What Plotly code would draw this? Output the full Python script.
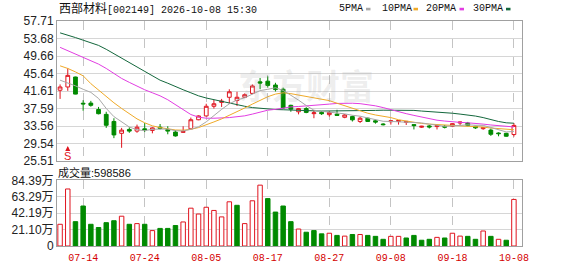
import plotly.graph_objects as go

# ---------------- data ----------------
dates = ["07-09", "07-10", "07-13", "07-14", "07-15", "07-16", "07-17", "07-20", "07-21", "07-22",
         "07-23", "07-24", "07-27", "07-28", "07-29", "07-30", "07-31", "08-03", "08-04", "08-05",
         "08-06", "08-07", "08-10", "08-11", "08-12", "08-13", "08-14", "08-17", "08-18", "08-19",
         "08-20", "08-21", "08-24", "08-25", "08-26", "08-27", "08-28", "08-31", "09-01", "09-02",
         "09-03", "09-04", "09-07", "09-08", "09-09", "09-10", "09-11", "09-14", "09-15", "09-16",
         "09-17", "09-18", "09-21", "09-22", "09-23", "09-24", "09-28", "09-29", "09-30", "10-08"]

opens = [41.79, 42.54, 44.83, 38.80, 38.83, 37.35, 36.24, 34.61, 31.88, 32.77,
         32.39, 32.91, 32.55, 33.28, 32.77, 32.17, 32.10, 32.91, 35.00, 35.88,
         38.10, 38.99, 40.17, 39.43, 40.17, 41.06, 43.72, 43.87, 42.99, 42.01,
         38.32, 36.84, 37.57, 36.40, 36.69, 36.17, 36.30, 35.57, 35.72, 34.61,
         35.35, 34.76, 34.02, 34.55, 34.61, 34.39, 33.88, 33.28, 33.58, 33.43,
         33.50, 33.50, 34.24, 34.24, 33.50, 32.95, 32.62, 31.95, 31.88, 31.60]
highs = [43.12, 46.83, 44.90, 39.50, 39.34, 37.95, 36.84, 35.35, 33.13, 33.28,
         33.88, 34.24, 33.28, 34.02, 33.50, 32.62, 33.50, 35.50, 36.00, 38.68,
         39.56, 39.79, 42.01, 41.43, 41.06, 43.12, 44.61, 44.98, 43.50, 42.39,
         38.46, 37.72, 37.90, 37.21, 37.00, 37.00, 37.30, 36.30, 35.95, 35.72,
         35.50, 35.00, 34.20, 34.80, 34.90, 34.70, 33.95, 33.60, 33.80, 33.70,
         33.80, 34.20, 34.55, 34.50, 33.60, 33.28, 32.99, 32.10, 32.00, 34.24]
lows = [39.79, 41.65, 40.85, 37.06, 38.00, 36.24, 33.13, 30.77, 28.55, 32.00,
        32.00, 32.17, 31.88, 32.77, 31.66, 31.13, 32.00, 32.77, 34.90, 35.72,
        37.57, 37.95, 38.68, 38.17, 40.00, 40.90, 42.01, 42.39, 41.50, 37.50,
        36.84, 36.24, 36.50, 35.35, 36.10, 35.72, 35.90, 35.35, 34.60, 34.24,
        34.50, 34.10, 33.70, 33.88, 33.88, 33.80, 32.77, 33.10, 32.99, 32.77,
        33.00, 33.30, 33.73, 33.50, 32.90, 32.69, 31.28, 31.20, 31.10, 31.13]
closes = [42.54, 45.21, 40.90, 38.65, 38.32, 36.39, 33.73, 31.51, 32.62, 32.39,
          33.28, 32.62, 33.13, 33.00, 32.39, 31.28, 32.32, 35.00, 35.88, 38.10,
          38.68, 39.28, 41.43, 40.17, 40.76, 42.77, 43.43, 42.90, 41.94, 37.72,
          37.43, 37.57, 36.69, 36.60, 36.39, 36.69, 36.00, 36.10, 34.98, 35.35,
          34.61, 34.46, 33.87, 34.76, 34.83, 34.61, 33.66, 33.50, 33.35, 33.66,
          33.30, 34.10, 34.46, 33.66, 33.13, 33.20, 31.66, 31.80, 31.21, 33.70]
prev_close_before_first = 41.20

# volume in units of 万 (10k shares)
volumes = [27.9, 73.3, 31.3, 51.4, 27.9, 23.8, 30.0, 32.5, 38.3, 27.9,
           28.8, 27.9, 19.8, 22.6, 22.6, 26.3, 30.9, 48.6, 41.1, 49.8,
           45.7, 37.4, 56.8, 52.3, 28.8, 58.1, 78.2, 60.9, 43.6, 51.4,
           31.3, 21.8, 17.7, 19.8, 15.6, 16.4, 13.6, 12.7, 14.8, 14.8,
           13.6, 12.4, 8.6, 12.4, 12.4, 10.3, 13.6, 7.4, 8.6, 11.1,
           10.3, 16.4, 12.7, 12.4, 8.6, 19.3, 12.4, 8.6, 7.4, 59.8586]

ma5 = [44.10, 43.50, 42.80, 42.00, 41.30, 39.90, 37.60, 35.72, 34.51, 33.33,
       32.71, 32.48, 32.81, 32.88, 32.88, 32.48, 32.42, 32.80, 33.37, 34.52,
       36.00, 37.39, 38.67, 39.53, 40.06, 40.88, 41.71, 42.00, 42.36, 41.75,
       40.68, 39.51, 38.27, 37.20, 36.94, 36.79, 36.47, 36.36, 36.03, 35.82,
       35.41, 35.10, 34.65, 34.61, 34.51, 34.51, 34.35, 34.27, 33.99, 33.76,
       33.49, 33.58, 33.77, 33.84, 33.73, 33.71, 33.22, 32.69, 32.20, 32.31]
ma10 = [47.40, 46.80, 46.00, 45.10, 43.30, 41.80, 40.40, 38.90, 37.60, 36.30,
        35.20, 34.30, 33.60, 33.20, 32.90, 32.65, 32.60, 32.80, 33.20, 33.80,
        34.50, 35.20, 36.00, 36.90, 37.70, 38.60, 39.50, 40.30, 40.90, 41.20,
        41.00, 40.70, 40.40, 40.10, 39.70, 39.40, 38.80, 38.20, 37.60, 37.00,
        36.50, 36.10, 35.80, 35.50, 35.00, 34.70, 34.30, 34.15, 34.00, 33.90,
        33.85, 33.80, 33.65, 33.55, 33.40, 33.30, 33.10, 32.95, 32.80, 32.70]
ma20 = [51.65, 50.90, 50.20, 49.45, 48.70, 47.80, 46.80, 45.60, 44.50, 43.60,
        42.70, 41.90, 41.20, 40.50, 39.60, 38.40, 37.20, 36.20, 35.60, 35.35,
        35.35, 35.40, 35.50, 35.70, 35.90, 36.30, 36.80, 37.20, 37.40, 37.70,
        37.95, 38.05, 38.15, 38.30, 38.45, 38.60, 38.75, 38.83, 38.80, 38.70,
        38.50, 38.20, 37.80, 37.30, 36.90, 36.40, 36.00, 35.60, 35.20, 34.90,
        34.70, 34.50, 34.40, 34.30, 34.20, 34.00, 33.80, 33.60, 33.45, 33.35]
ma30 = [54.98, 54.50, 53.90, 53.30, 52.70, 52.10, 51.20, 50.20, 49.20, 48.20,
        47.20, 46.20, 45.30, 44.10, 43.40, 42.60, 41.90, 41.20, 40.50, 40.00,
        39.60, 39.20, 38.80, 38.40, 38.10, 37.80, 37.60, 37.45, 37.35, 37.30,
        37.20, 37.15, 37.10, 37.05, 37.00, 37.00, 37.00, 37.00, 37.00, 37.05,
        37.10, 37.15, 37.20, 37.20, 37.20, 37.20, 37.15, 37.00, 36.90, 36.80,
        36.70, 36.50, 36.30, 36.10, 35.85, 35.50, 35.00, 34.60, 34.30, 34.20]

tick_labels = ["07-14", "07-24", "08-05", "08-17", "08-27", "09-08", "09-18", "10-08"]
price_ticks = [57.71, 53.68, 49.66, 45.64, 41.61, 37.59, 33.56, 29.54, 25.51]
vol_ticks = [0, 21.10, 42.19, 63.29, 84.39]
vol_tick_text = ["0", "21.10万", "42.19万", "63.29万", "84.39万"]

stock_name = "西部材料"
stock_code = "002149"
stamp = "2026-10-08 15:30"
signal_idx = 1
signal_price = 28.95

# ---------------- styling ----------------
RED = "#e0141e"
GREEN = "#008a00"
C_MA5 = "#a8a8a8"
C_MA10 = "#f0aa28"
C_MA20 = "#e23de2"
C_MA30 = "#13673c"
GRID = "#d6d6d6"
VGRID = "#c4c4c4"
BORDER = "#a0a0a0"

idx = list(range(len(dates)))
tick_idx = [dates.index(t) for t in tick_labels]

prev = [prev_close_before_first] + closes[:-1]
vol_colors = [RED if c >= p else GREEN for c, p in zip(closes, prev)]
vol_fill = ["#ffffff" if c == RED else GREEN for c in vol_colors]

fig = go.Figure()

fig.add_trace(go.Candlestick(
    x=idx, open=opens, high=highs, low=lows, close=closes,
    increasing=dict(line=dict(color=RED, width=1), fillcolor="#ffffff"),
    decreasing=dict(line=dict(color=GREEN, width=1), fillcolor=GREEN),
    whiskerwidth=0, xaxis="x", yaxis="y", hoverinfo="skip",
))

for vals, col in [(ma30, C_MA30), (ma20, C_MA20), (ma10, C_MA10), (ma5, C_MA5)]:
    fig.add_trace(go.Scatter(x=idx, y=vals, mode="lines",
                             line=dict(color=col, width=1),
                             xaxis="x", yaxis="y", hoverinfo="skip"))

fig.add_trace(go.Bar(
    x=idx, y=volumes, width=0.58,
    marker=dict(color=vol_fill, line=dict(color=vol_colors, width=1)),
    xaxis="x2", yaxis="y2", hoverinfo="skip",
))

W, H = 578, 276
L, R, T, B = 57, 56, 21, 22
plot_h = H - T - B
main_bottom_px = 166
vol_top_px = 186
main_dom0 = (H - B - main_bottom_px) / plot_h
vol_dom1 = (H - B - vol_top_px) / plot_h


def py(px):
    """pixel y (from top) -> paper y"""
    return (H - B - px) / plot_h


def pxx(px):
    return (px - L) / (W - L - R)


xr = [-0.4, 60.05]
axis_font = dict(family="Liberation Sans, Noto Sans CJK SC", size=12, color="#222222")

common_x = dict(range=xr, showgrid=True, gridcolor=VGRID, griddash="dash", gridwidth=1,
                showline=True, mirror=True, linecolor=BORDER, linewidth=1,
                zeroline=False, ticks="", tickvals=tick_idx, fixedrange=True)

fig.update_layout(
    width=W, height=H,
    margin=dict(l=L, r=R, t=T, b=B),
    paper_bgcolor="#ffffff", plot_bgcolor="#ffffff",
    showlegend=False,
    xaxis=dict(**common_x, anchor="y", showticklabels=False,
               rangeslider=dict(visible=False), domain=[0, 1]),
    xaxis2=dict(**common_x, anchor="y2", matches="x", ticktext=tick_labels,
                ticklabelstandoff=2,
                tickfont=dict(family="Liberation Mono", size=10, color="#d40000"),
                domain=[0, 1]),
    yaxis=dict(domain=[main_dom0, 1], range=[price_ticks[-1] - 0.001, price_ticks[0] + 0.001],
               tickvals=price_ticks, ticktext=[f"{v:.2f}" for v in price_ticks],
               showgrid=True, gridcolor=GRID, showline=True, mirror=True,
               linecolor=BORDER, zeroline=False, ticks="", tickfont=axis_font,
               fixedrange=True),
    yaxis2=dict(domain=[0, vol_dom1], range=[0, vol_ticks[-1] + 0.01],
                tickvals=vol_ticks, ticktext=vol_tick_text,
                showgrid=True, gridcolor=GRID, showline=True, mirror=True,
                linecolor=BORDER, zeroline=False, ticks="", tickfont=axis_font,
                fixedrange=True),
)

annotations = []
# title
annotations.append(dict(
    xref="paper", yref="paper", x=0, y=py(9), xanchor="left", yanchor="middle",
    text=f'<span style="font-size:12px">{stock_name}</span>[{stock_code}] {stamp}',
    showarrow=False, font=dict(family="Liberation Mono, Noto Sans CJK SC", size=10, color="#111111"),
))
# MA legend
legend_items = [("5PMA", C_MA5, 338, 366), ("10PMA", C_MA10, 380.5, 413.5),
                ("20PMA", C_MA20, 425, 459.5), ("30PMA", C_MA30, 471.5, 506)]
shapes = []
for name, col, tx, sx in legend_items:
    annotations.append(dict(
        xref="paper", yref="paper", x=pxx(tx), y=py(8.5), xanchor="left", yanchor="middle",
        text=name, showarrow=False, borderpad=0,
        font=dict(family="Liberation Mono", size=10, color="#111111")))
    shapes.append(dict(type="rect", xref="paper", yref="paper",
                       x0=pxx(sx), x1=pxx(sx + 4.5), y0=py(10), y1=py(7.3),
                       fillcolor=col, line=dict(width=0)))
# volume label
annotations.append(dict(
    xref="paper", yref="paper", x=0, y=py(177.5), xanchor="left", yanchor="middle",
    text=f"成交量:{int(round(volumes[-1] * 10000))}", showarrow=False, borderpad=0,
    font=dict(family="Liberation Sans, Noto Sans CJK SC", size=11, color="#111111")))
# watermark
annotations.append(dict(
    xref="paper", yref="paper", x=pxx(306), y=py(87), xanchor="center", yanchor="middle",
    text="<b>东方财富</b>", showarrow=False,
    font=dict(family="Noto Sans CJK SC", size=34, color="rgba(150,150,150,0.16)")))
# signal marker
annotations.append(dict(
    xref="x", yref="y", x=signal_idx, y=signal_price, text="S", showarrow=True,
    ax=0, ay=10, arrowhead=2, arrowsize=1, arrowwidth=1, arrowcolor=RED, standoff=0,
    font=dict(family="Liberation Sans", size=11, color=RED)))

fig.update_layout(annotations=annotations, shapes=shapes)

fig.write_html("out.html")
